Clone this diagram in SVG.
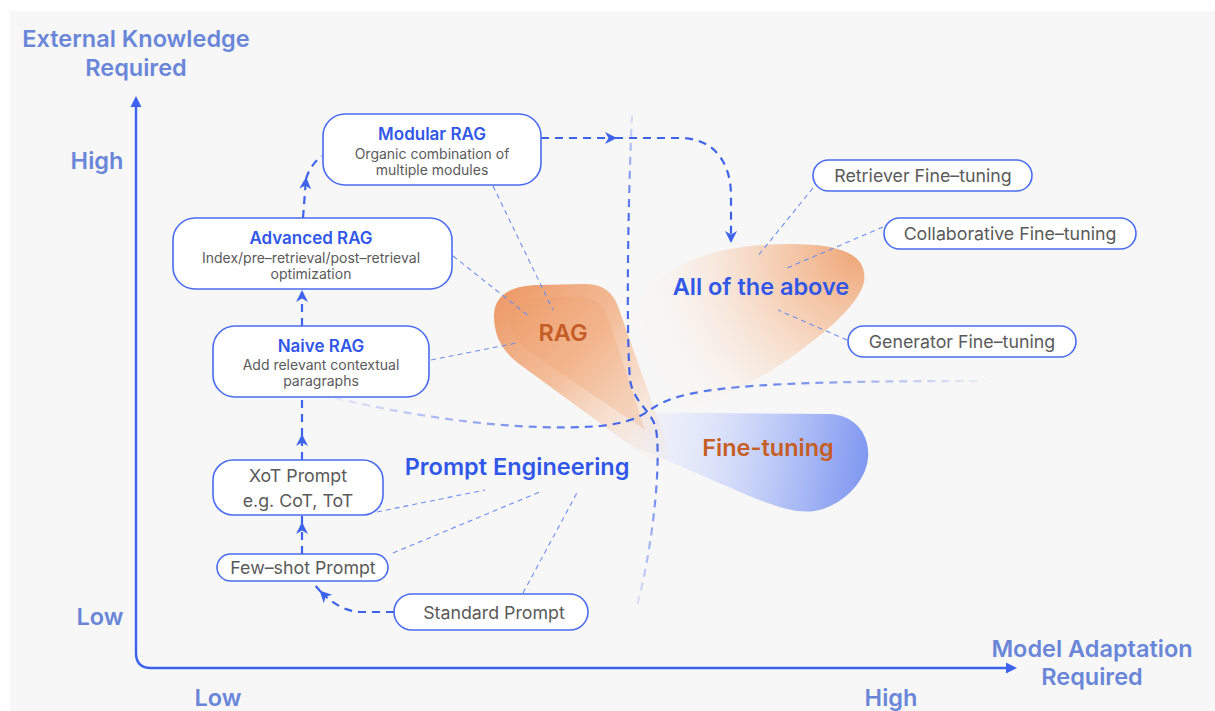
<svg xmlns="http://www.w3.org/2000/svg" width="1215" height="711" viewBox="0 0 1215 711">
<defs>
<style>
.axl{font-family:Inter,"Liberation Sans",sans-serif;font-weight:600;font-size:23.5px;fill:#6a86d8;text-anchor:middle}
.node{fill:#fff;stroke:#4a6cf0;stroke-width:1.6}
.ttl{font-family:Inter,"Liberation Sans",sans-serif;font-weight:600;font-size:17px;fill:#3157e8;text-anchor:middle}
.sub{font-family:Inter,"Liberation Sans",sans-serif;font-size:14px;fill:#5a5a5a;text-anchor:middle}
.pill{font-family:Inter,"Liberation Sans",sans-serif;font-size:17.8px;fill:#5a5a5a;text-anchor:middle}
.big{font-family:Inter,"Liberation Sans",sans-serif;font-weight:600;font-size:23.5px;text-anchor:middle}
.blue{fill:#3157e8}
.orange{fill:#c65d25}
.dash{fill:none;stroke:#3d63ea;stroke-width:2.2;stroke-dasharray:8 6}
.thin{fill:none;stroke:#6b8ef0;stroke-width:1.1;stroke-dasharray:5 4}
.axis{fill:none;stroke:#3d63ee;stroke-width:2.4}
</style>
<marker id="ah" viewBox="0 0 12 12" refX="10" refY="6" markerWidth="12" markerHeight="12" markerUnits="userSpaceOnUse" orient="auto">
<path d="M0,0 L12,6 L0,12 L3.5,6 Z" fill="#3d63ea"/>
</marker>
<linearGradient id="gRag" x1="0" y1="0" x2="1" y2="1">
<stop offset="0" stop-color="#ec9560"/>
<stop offset="0.45" stop-color="#f3b58c" stop-opacity="0.85"/>
<stop offset="1" stop-color="#fbe3cf" stop-opacity="0.1"/>
</linearGradient>
<radialGradient id="gAll" cx="860" cy="250" r="260" gradientUnits="userSpaceOnUse">
<stop offset="0" stop-color="#ee9f6c" stop-opacity="0.95"/>
<stop offset="0.35" stop-color="#f5c19c" stop-opacity="0.7"/>
<stop offset="0.75" stop-color="#fbe8d8" stop-opacity="0.25"/>
<stop offset="1" stop-color="#fdf3ea" stop-opacity="0"/>
</radialGradient>
<linearGradient id="gFt" x1="600" y1="430" x2="870" y2="470" gradientUnits="userSpaceOnUse">
<stop offset="0" stop-color="#e4e9fb" stop-opacity="0"/>
<stop offset="0.35" stop-color="#d7dffb" stop-opacity="0.6"/>
<stop offset="0.7" stop-color="#b3c2f6"/>
<stop offset="1" stop-color="#7d96f0"/>
</linearGradient>
<linearGradient id="gV" x1="0" y1="115" x2="0" y2="612" gradientUnits="userSpaceOnUse">
<stop offset="0" stop-color="#3d63ea" stop-opacity="0.15"/>
<stop offset="0.2" stop-color="#3d63ea" stop-opacity="0.9"/>
<stop offset="0.65" stop-color="#3d63ea" stop-opacity="1"/>
<stop offset="1" stop-color="#3d63ea" stop-opacity="0.1"/>
</linearGradient>
<linearGradient id="gH" x1="335" y1="0" x2="985" y2="0" gradientUnits="userSpaceOnUse">
<stop offset="0" stop-color="#3d63ea" stop-opacity="0.1"/>
<stop offset="0.3" stop-color="#3d63ea" stop-opacity="0.7"/>
<stop offset="0.45" stop-color="#3d63ea" stop-opacity="1"/>
<stop offset="0.7" stop-color="#3d63ea" stop-opacity="0.7"/>
<stop offset="1" stop-color="#3d63ea" stop-opacity="0.05"/>
</linearGradient>
</defs>

<rect x="0" y="0" width="1215" height="711" fill="#ffffff"/>
<rect x="10" y="11" width="1205" height="700" fill="#f7f7f8"/>

<g id="regions">
<path d="M650,287 C680,257 730,244 790,244 C840,244 868,254 864,282 C860,302 830,332 772,370 C720,402 660,424 636,410 C620,380 628,312 650,287 Z" fill="url(#gAll)"/>
<path d="M612,415 C650,412 700,413 720,413 L830,414 C860,416 870,440 868,458 C866,480 845,505 815,511 C795,514 770,505 740,492 L625,442 C600,430 595,417 612,415 Z" fill="url(#gFt)"/>
<path d="M494,316 C494,296 510,285 540,285 L585,284 C606,284 615,295 620,312 L668,448 C672,462 660,466 645,456 L522,366 C502,352 494,336 494,316 Z" fill="url(#gRag)"/>
<path d="M510,320 C510,305 522,297 545,297 L580,297 C596,297 604,305 608,318 L645,430 L530,352 C516,342 510,332 510,320 Z" fill="#ee9a63" opacity="0.25"/>
</g>

<g id="axes">
<path class="axis" d="M136,104 L136,653 Q136,668 151,668 L1008,668"/>
<path d="M136,96 L141.5,107 L130.5,107 Z" fill="#3d63ee"/>
<path d="M1017,668 L1006,662.5 L1006,673.5 Z" fill="#3d63ee"/>
<text class="axl" x="136" y="47">External Knowledge</text>
<text class="axl" x="136" y="76">Required</text>
<text class="axl" x="97" y="169">High</text>
<text class="axl" x="100" y="625">Low</text>
<text class="axl" x="218" y="706">Low</text>
<text class="axl" x="891" y="706">High</text>
<text class="axl" x="1092" y="657">Model Adaptation</text>
<text class="axl" x="1092" y="685">Required</text>
</g>

<g id="boundaries">
<path d="M632,115 C628,200 626,330 630,380 C634,402 648,408 655,425 C662,450 655,540 636,610" fill="none" stroke="url(#gV)" stroke-width="2.2" stroke-dasharray="8 6"/>
<path d="M335,398 C420,418 520,432 600,426 C628,423 640,417 650,410 C680,388 740,381 985,381" fill="none" stroke="url(#gH)" stroke-width="2.2" stroke-dasharray="8 6"/>
</g>

<g id="connectors">
<path class="dash" d="M302,554 L302,524" marker-end="url(#ah)"/>
<path class="dash" d="M302,524 L302,516"/>
<path class="dash" d="M302,460 L302,436" marker-end="url(#ah)"/>
<path class="dash" d="M302,436 L302,398"/>
<path class="dash" d="M302,326 L302,292" marker-end="url(#ah)"/>
<path class="dash" d="M303,218 L306,179" marker-end="url(#ah)"/>
<path class="dash" d="M306,179 Q310,165 322,156"/>
<path class="dash" d="M541,138 L615,138" marker-end="url(#ah)"/>
<path class="dash" d="M615,138 L680,138 C712,138 731,160 731,196 L731,241" marker-end="url(#ah)"/>
<path class="dash" d="M394,612 L360,612 Q340,611 321,592" marker-end="url(#ah)"/>
<path class="dash" d="M321,592 L312,582"/>
<path class="thin" d="M493,186 L553,310"/>
<path class="thin" d="M453,256 L530,317"/>
<path class="thin" d="M431,360 L517,343"/>
<path class="thin" d="M377,512 L485,490"/>
<path class="thin" d="M393,553 L542,491"/>
<path class="thin" d="M523,593 L578,491"/>
<path class="thin" d="M813,188 L757,257"/>
<path class="thin" d="M883,227 L787,268"/>
<path class="thin" d="M847,340 L778,310"/>
</g>

<g id="n-modular">
<rect class="node" x="323" y="114" width="218" height="71" rx="22"/>
<text class="ttl" x="432" y="140">Modular RAG</text>
<text class="sub" x="432" y="159">Organic combination of</text>
<text class="sub" x="432" y="175">multiple modules</text>
</g>
<g id="n-advanced">
<rect class="node" x="173" y="218" width="279" height="71" rx="22"/>
<text class="ttl" x="311" y="244">Advanced RAG</text>
<text class="sub" x="311" y="263">Index/pre–retrieval/post–retrieval</text>
<text class="sub" x="311" y="279">optimization</text>
</g>
<g id="n-naive">
<rect class="node" x="213" y="326" width="216" height="71" rx="22"/>
<text class="ttl" x="321" y="352">Naive RAG</text>
<text class="sub" x="321" y="370">Add relevant contextual</text>
<text class="sub" x="321" y="386">paragraphs</text>
</g>
<g id="n-xot">
<rect class="node" x="213" y="460" width="170" height="55" rx="20"/>
<text class="pill" x="298" y="482">XoT Prompt</text>
<text class="pill" x="298" y="507">e.g. CoT, ToT</text>
</g>
<g id="n-fewshot">
<rect class="node" x="217" y="554" width="171" height="27" rx="13.5"/>
<text class="pill" x="303" y="574">Few–shot Prompt</text>
</g>
<g id="n-standard">
<rect class="node" x="394" y="594" width="194" height="36" rx="18"/>
<text class="pill" x="494" y="619">Standard Prompt</text>
</g>
<g id="n-retriever">
<rect class="node" x="813" y="160" width="219" height="31" rx="15.5"/>
<text class="pill" x="923" y="182">Retriever Fine–tuning</text>
</g>
<g id="n-collab">
<rect class="node" x="884" y="218" width="252" height="31" rx="15.5"/>
<text class="pill" x="1010" y="240">Collaborative Fine–tuning</text>
</g>
<g id="n-generator">
<rect class="node" x="848" y="326" width="228" height="31" rx="15.5"/>
<text class="pill" x="962" y="348">Generator Fine–tuning</text>
</g>

<g id="labels">
<text class="big orange" x="563" y="341">RAG</text>
<text class="big blue" x="761" y="295">All of the above</text>
<text class="big orange" x="768" y="456">Fine-tuning</text>
<text class="big blue" x="517" y="475">Prompt Engineering</text>
</g>
</svg>
